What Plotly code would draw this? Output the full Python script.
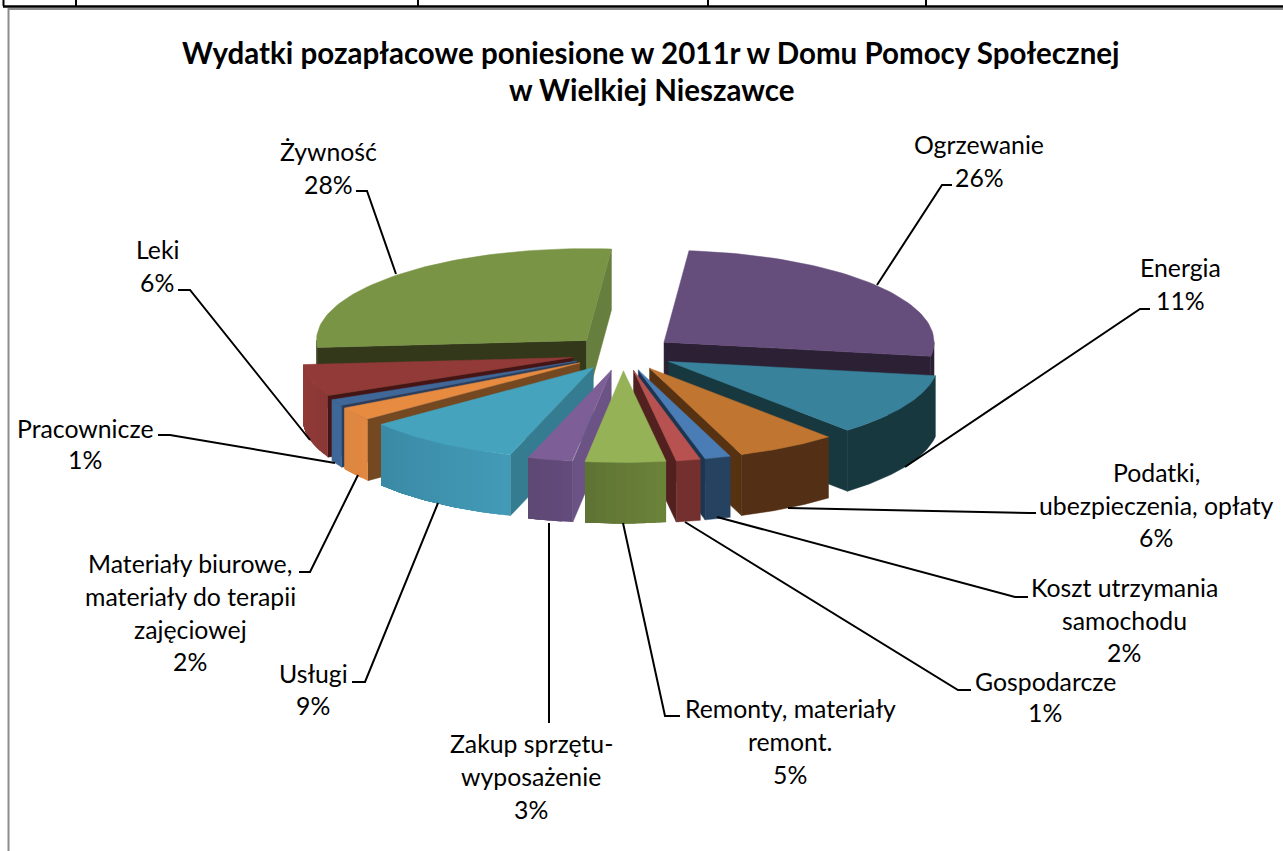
import math
import plotly.graph_objects as go

categories = ["Ogrzewanie", "Energia", "Podatki, ubezpieczenia, opłaty", "Koszt utrzymania samochodu",
              "Gospodarcze", "Remonty, materiały remont.", "Zakup sprzętu-wyposażenie", "Usługi",
              "Materiały biurowe, materiały do terapii zajęciowej", "Pracownicze", "Leki", "Żywność"]
values = [26, 11, 6, 1.55, 1.45, 4.8, 2.7, 9.4, 2.45, 1.25, 5.7, 27.7]
title_lines = ["Wydatki pozapłacowe poniesione w 2011r w Domu Pomocy Społecznej", "w Wielkiej Nieszawce"]

top_colors = ["#654D7C", "#38829B", "#C07530", "#4A7CB5", "#B85250", "#95B257",
              "#7D5E97", "#45A3BE", "#E68B40", "#3F6899", "#923A38", "#7A9446"]
wall_from = ["#2C2035", "#17383F", "#533015", "#264261", "#73302E", "#6B8239",
             "#634B7B", "#429AB6", "#E08840", "#3F6899", "#8A3836", "#33381A"]
wall_to = ["#2C2035", "#17383F", "#533015", "#264261", "#73302E", "#5F7434",
           "#5E4874", "#3B8AA5", "#DD8640", "#3F6899", "#923A38", "#33381A"]
cut_colors = ["#2C2035", "#17383F", "#563213", "#1C3551", "#51201F", "#5F7434",
              "#6B5385", "#367C90", "#744820", "#2A3F5C", "#451516", "#33381A"]
end_cut_override = {11: "#677F3E"}

CX, CY, R, B, H, EXPLODE, START = 623, 353, 270, 0.34, 61, 52, 5.3


def project(x, y, drop=0):
    return CX + x, CY + y * B + drop


def polar(a, r):
    t = math.radians(a)
    return r * math.sin(t), -r * math.cos(t)


def mix(c1, c2, f):
    a = [int(c1[i:i + 2], 16) for i in (1, 3, 5)]
    b = [int(c2[i:i + 2], 16) for i in (1, 3, 5)]
    return "rgb(%d,%d,%d)" % tuple(round(p + (q - p) * f) for p, q in zip(a, b))


fig = go.Figure()


def poly(pts, color, lw=0.5):
    fig.add_trace(go.Scatter(x=[p[0] for p in pts] + [pts[0][0]], y=[p[1] for p in pts] + [pts[0][1]],
                             mode="lines", fill="toself", fillcolor=color,
                             line=dict(color=color, width=lw), hoverinfo="skip", showlegend=False))


slices = []
acc = 0
for i, v in enumerate(values):
    a1 = START + acc * 3.6
    acc += v
    a2 = START + acc * 3.6
    slices.append((i, a1, a2))

slices.sort(key=lambda s: -math.cos(math.radians((s[1] + s[2]) / 2)))

for i, a1, a2 in slices:
    mid = (a1 + a2) / 2
    ox, oy = polar(mid, EXPLODE)

    def pt(a, r, drop=0):
        x, y = polar(a, r)
        return project(ox + x, oy + y, drop)

    tip, tip_low = pt(a1, 0), pt(a1, 0, H)
    if math.sin(math.radians(a1)) < -1e-6:
        poly([tip, pt(a1, R), pt(a1, R, H), tip_low], cut_colors[i])
    if math.sin(math.radians(a2)) > 1e-6:
        poly([tip, pt(a2, R), pt(a2, R, H), tip_low], end_cut_override.get(i, cut_colors[i]))

    w1, w2 = max(a1, 90), min(a2, 270)
    if w2 > w1:
        bands = 1 if wall_from[i] == wall_to[i] else max(2, int((w2 - w1) / 2))
        for k in range(bands):
            s = w1 + (w2 - w1) * k / bands
            steps = max(2, int((w2 - s) * 2))
            upper = [pt(s + (w2 - s) * j / steps, R) for j in range(steps + 1)]
            lower = [pt(s + (w2 - s) * j / steps, R, H) for j in range(steps, -1, -1)]
            poly(upper + lower, mix(wall_from[i], wall_to[i], k / max(1, bands - 1)), lw=0 if bands > 1 else 0.5)

    arc = [pt(a1 + (a2 - a1) * k / 60, R) for k in range(61)]
    poly([tip] + arc, top_colors[i])

leaders = [
    [(877, 285), (942, 185), (952, 185)],
    [(905, 467), (1140, 309), (1150, 309)],
    [(788, 508), (1030, 513), (1036, 513)],
    [(717, 517), (1015, 597), (1028, 597)],
    [(685, 522), (958, 690), (971, 690)],
    [(623, 523), (665, 716), (680, 716)],
    [(549, 523), (549, 723)],
    [(438, 503), (365, 682), (352, 682)],
    [(358, 475), (310, 572), (299, 572)],
    [(335, 463), (170, 435), (158, 435)],
    [(310, 440), (190, 290), (178, 290)],
    [(396, 274), (367, 191), (356, 191)],
]
shapes = []
for path in leaders:
    d = "M" + " L".join(f"{x},{y}" for x, y in path)
    shapes.append(dict(type="path", path=d, xref="x", yref="y", line=dict(color="black", width=2)))

# surrounding document frame
shapes += [
    dict(type="line", xref="x", yref="y", x0=3, x1=1283, y0=6.5, y1=6.5, line=dict(color="black", width=2.5)),
    dict(type="line", xref="x", yref="y", x0=8, x1=1283, y0=9, y1=9, line=dict(color="#8C8C8C", width=2)),
    dict(type="line", xref="x", yref="y", x0=8.5, x1=8.5, y0=8, y1=851, line=dict(color="#8C8C8C", width=2)),
]
for x in (3.5, 76, 418, 708, 926):
    shapes.append(dict(type="line", xref="x", yref="y", x0=x, x1=x, y0=0, y1=6, line=dict(color="black", width=2)))

label_lines = [
    (979, [(145, "Ogrzewanie"), (178, "26%")]),
    (1180, [(268, "Energia"), (301, "11%")]),
    (1156, [(473, "Podatki,"), (506, "ubezpieczenia, opłaty"), (538, "6%")]),
    (1124, [(588, "Koszt utrzymania"), (621, "samochodu"), (653, "2%")]),
    (1045, [(682, "Gospodarcze"), (713, "1%")]),
    (790, [(709, "Remonty, materiały"), (742, "remont."), (775, "5%")]),
    (531, [(744, "Zakup sprzętu-"), (777, "wyposażenie"), (810, "3%")]),
    (313, [(674, "Usługi"), (706, "9%")]),
    (190, [(564, "Materiały biurowe,"), (597, "materiały do terapii"), (630, "zajęciowej"), (662, "2%")]),
    (85, [(429, "Pracownicze"), (460, "1%")]),
    (157, [(250, "Leki"), (283, "6%")]),
    (328, [(152, "Żywność"), (185, "28%")]),
]
annotations = []
for cx, rows in label_lines:
    for y, text in rows:
        annotations.append(dict(x=cx, y=y - 1, text=text, xref="x", yref="y", showarrow=False,
                                font=dict(family="Lato", size=24.8, color="black"), bgcolor="rgba(0,0,0,0)"))
for y, text in zip((52, 89), title_lines):
    annotations.append(dict(x=651, y=y, text="<b>" + text + "</b>", xref="x", yref="y", showarrow=False,
                            font=dict(family="Lato", size=29.5, color="black")))

fig.update_layout(
    width=1283, height=851, margin=dict(l=0, r=0, t=0, b=0),
    paper_bgcolor="white", plot_bgcolor="white", showlegend=False,
    xaxis=dict(range=[0, 1283], visible=False, fixedrange=True),
    yaxis=dict(range=[851, 0], visible=False, fixedrange=True),
    shapes=shapes, annotations=annotations,
)
fig.write_html("out.html", config={"displayModeBar": False},
               post_script="document.body.style.margin='0';document.body.style.overflow='hidden';")
